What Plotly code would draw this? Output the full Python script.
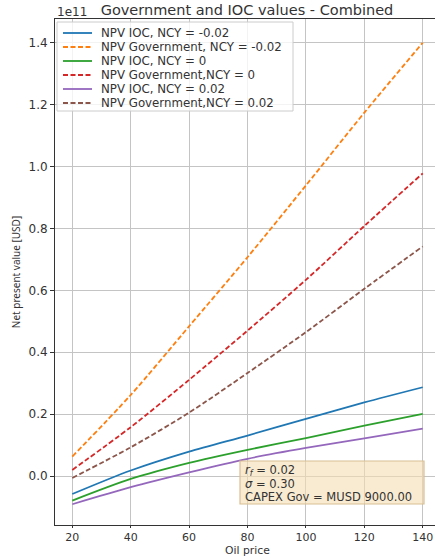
import plotly.graph_objects as go

# Oil price grid and net present values (in units of 1e11 USD)
oil_price = [20, 40, 60, 80, 100, 120, 140]

npv_ioc_m002 = [-0.058, 0.018, 0.079, 0.131, 0.185, 0.238, 0.287]
npv_gov_m002 = [0.063, 0.262, 0.484, 0.707, 0.939, 1.174, 1.400]
npv_ioc_0 = [-0.079, -0.009, 0.043, 0.085, 0.123, 0.163, 0.201]
npv_gov_0 = [0.020, 0.158, 0.311, 0.470, 0.634, 0.808, 0.978]
npv_ioc_002 = [-0.091, -0.036, 0.012, 0.056, 0.091, 0.122, 0.153]
npv_gov_002 = [-0.006, 0.093, 0.205, 0.333, 0.465, 0.605, 0.742]

series_names = [
    "NPV IOC, NCY = -0.02",
    "NPV Government, NCY = -0.02",
    "NPV IOC, NCY = 0",
    "NPV Government,NCY = 0",
    "NPV IOC, NCY = 0.02",
    "NPV Government,NCY = 0.02",
]
series_values = [npv_ioc_m002, npv_gov_m002, npv_ioc_0, npv_gov_0, npv_ioc_002, npv_gov_002]
series_colors = ["#1f77b4", "#ff7f0e", "#2ca02c", "#d62728", "#9467bd", "#8c564b"]
series_dash = ["solid", "5px,2.5px", "solid", "5px,2.5px", "solid", "5px,2.5px"]

y_ticks = [0.0, 0.2, 0.4, 0.6, 0.8, 1.0, 1.2, 1.4]
x_ticks = [20, 40, 60, 80, 100, 120, 140]

info_lines = [
    "<i>r<sub>f</sub></i> = 0.02",
    "<i>σ</i> = 0.30",
    "CAPEX Gov = MUSD 9000.00",
]

W, H = 435, 559
M_L, M_R, M_T, M_B = 55, 0, 19, 34
PW, PH = W - M_L - M_R, H - M_T - M_B
FONT = "DejaVu Sans"
TEXT = "#333333"


def px_x(px):
    return (px - M_L) / PW


def px_y(py):
    return (H - M_B - py) / PH


fig = go.Figure()
for name, vals, col, dash in zip(series_names, series_values, series_colors, series_dash):
    fig.add_trace(go.Scatter(
        x=oil_price, y=vals, mode="lines", name=name,
        line=dict(color=col, width=1.8, dash=dash, shape="spline", smoothing=0.8),
        showlegend=False,
    ))

shapes = []
annotations = []

# Legend box (compact rows, drawn by hand)
shapes.append(dict(type="rect", xref="paper", yref="paper",
                   x0=px_x(57), x1=px_x(293), y0=px_y(111), y1=px_y(22),
                   line=dict(color="#cccccc", width=1),
                   fillcolor="rgba(255,255,255,0.8)", layer="above"))
row0, row_gap = 33, 14
for i, (name, col, dash) in enumerate(zip(series_names, series_colors, series_dash)):
    ry = row0 + i * row_gap
    shapes.append(dict(type="line", xref="paper", yref="paper",
                       x0=px_x(63), x1=px_x(92), y0=px_y(ry), y1=px_y(ry),
                       line=dict(color=col, width=1.8, dash=dash), layer="above"))
    annotations.append(dict(text=name, xref="paper", yref="paper",
                            x=px_x(99), y=px_y(ry), xanchor="left", yanchor="middle",
                            showarrow=False, font=dict(family=FONT, size=11.8, color=TEXT)))

# Parameter box
shapes.append(dict(type="rect", xref="paper", yref="paper",
                   x0=px_x(240), x1=px_x(424), y0=px_y(504), y1=px_y(461),
                   line=dict(color="#d9bf94", width=1.2),
                   fillcolor="rgba(245,222,179,0.6)", layer="above"))
for i, line in enumerate(info_lines):
    annotations.append(dict(text=line, xref="paper", yref="paper",
                            x=px_x(243), y=px_y(470 + i * 13.5), xanchor="left",
                            yanchor="middle", showarrow=False,
                            font=dict(family=FONT, size=11.5, color=TEXT)))

# Axis offset label
annotations.append(dict(text="1e11", xref="paper", yref="paper",
                        x=0, y=px_y(12), xanchor="left", yanchor="middle",
                        showarrow=False, font=dict(family=FONT, size=12, color=TEXT)))

# X axis label
annotations.append(dict(text="Oil price", xref="paper", yref="paper",
                        x=px_x(247), y=px_y(558.8), xanchor="center", yanchor="bottom",
                        showarrow=False, font=dict(family=FONT, size=10.8, color=TEXT)))

fig.update_layout(
    width=W, height=H,
    margin=dict(l=M_L, r=M_R, t=M_T, b=M_B),
    paper_bgcolor="white", plot_bgcolor="white",
    font=dict(family=FONT, size=12, color=TEXT),
    title=dict(text="Government and IOC values - Combined", x=px_x(247), xref="paper",
               xanchor="center", y=1 - 10 / H, yref="container", yanchor="middle",
               font=dict(family=FONT, size=14.5, color=TEXT)),
    shapes=shapes, annotations=annotations,
    showlegend=False,
)

fig.update_xaxes(
    range=[14.08, 144.2], tickvals=x_ticks, automargin=False,
    showgrid=True, gridcolor="#c4c4c4", gridwidth=1,
    showline=True, linecolor="#333333", linewidth=1, mirror=True,
    ticks="outside", ticklen=2, tickcolor="#333333",
    tickfont=dict(family=FONT, size=11, color=TEXT),
    zeroline=False,
)
fig.update_yaxes(
    range=[-0.158, 1.4766], tickvals=y_ticks, tickformat=".1f", automargin=False,
    showgrid=True, gridcolor="#c4c4c4", gridwidth=1,
    showline=True, linecolor="#333333", linewidth=1,
    ticks="outside", ticklen=4, tickcolor="#333333",
    tickfont=dict(family=FONT, size=12, color=TEXT),
    zeroline=False,
    title=dict(text="Net present value [USD]", standoff=6,
               font=dict(family="Noto Sans", size=10, color=TEXT)),
)

fig.write_html("out.html")
